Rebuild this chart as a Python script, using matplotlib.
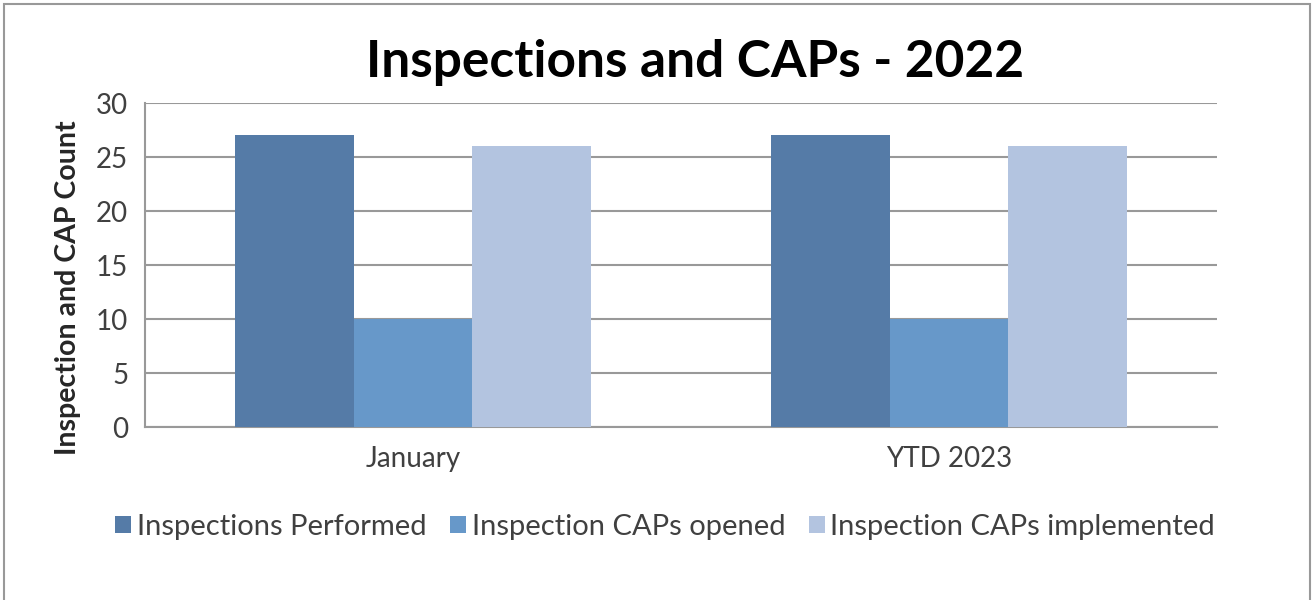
import numpy as np
import matplotlib.pyplot as plt
from matplotlib.patches import Rectangle

categories = ['January', 'YTD 2023']
performed = [27, 27]
opened = [10, 10]
implemented = [26, 26]
series_names = ['Inspections Performed', 'Inspection CAPs opened', 'Inspection CAPs implemented']
colors = ['#557ba7', '#6798c9', '#b3c4e0']
yticks = [0, 5, 10, 15, 20, 25, 30]

plt.rcParams['font.family'] = ['Lato', 'DejaVu Sans']

fig = plt.figure(figsize=(13.14, 6), dpi=100)
ax = fig.add_axes([145 / 1314, 1 - 427 / 600, 1072 / 1314, 324 / 600])

x = np.arange(len(categories))
w = 0.222
for i, (vals, name) in enumerate(zip([performed, opened, implemented], series_names)):
    ax.bar(x + (i - 1) * w, vals, w, color=colors[i], label=name, zorder=3)

ax.set_xlim(-0.5, 1.5)
ax.set_ylim(0, 30)
ax.set_yticks(yticks)
ax.set_xticks(x)
ax.set_xticklabels(categories)
ax.tick_params(axis='both', length=0, labelsize=20, colors='#404040')
ax.tick_params(axis='y', pad=12)
ax.tick_params(axis='x', pad=14)
ax.grid(axis='y', color='#999999', linewidth=1.5, zorder=0)
for s in ['top', 'right']:
    ax.spines[s].set_visible(False)
for s in ['left', 'bottom']:
    ax.spines[s].set_color('#999999')
    ax.spines[s].set_linewidth(1.5)

ax.set_ylabel('Inspection and CAP Count', fontsize=20.5, fontweight='bold', color='#262626')
ax.yaxis.set_label_coords(-0.06, 0.43)
fig.text(695 / 1314, 1 - 62 / 600, 'Inspections and CAPs - 2022', fontsize=37, fontweight='bold',
         ha='center', va='center', color='#000000')

leg = fig.legend(loc='center', bbox_to_anchor=(665 / 1314, 1 - 527 / 600), ncol=3, frameon=False,
                 prop={'size': 21}, handlelength=0.55, handleheight=0.55,
                 handletextpad=0.2, columnspacing=0.8, labelcolor='#404040')

fig.patches.append(Rectangle((4 / 1314, -0.05), 1306 / 1314, 1.05 - 4 / 600, transform=fig.transFigure,
                             fill=False, edgecolor='#999999', linewidth=1.5))

fig.savefig('out.png', dpi=100)
